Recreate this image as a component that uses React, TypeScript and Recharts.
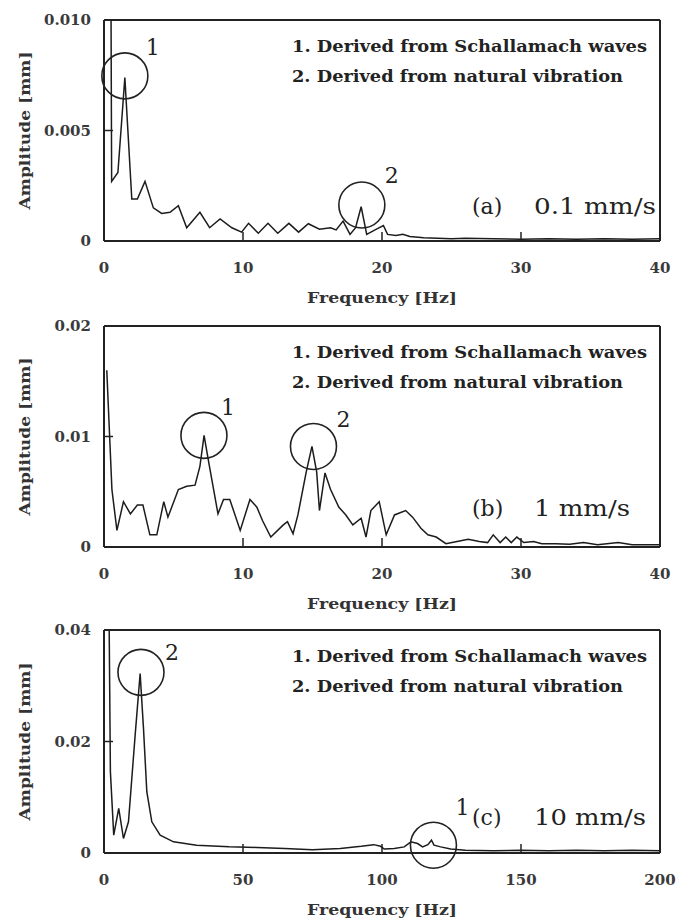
import { Line, LineChart, ReferenceDot, ReferenceLine, XAxis, YAxis } from "recharts";

// (a) 0.1 mm/s
const freqA = [
  0.45, 0.55, 1.0, 1.5, 2.0, 2.4, 2.95, 3.55, 4.15, 4.75, 5.35, 5.95, 6.9, 7.6, 8.35, 9.2, 9.9,
  10.4, 11.1, 11.8, 12.5, 13.3, 14.0, 14.7, 15.5, 16.3, 16.7, 17.2, 17.7, 18.1, 18.5, 18.9, 19.5,
  20.1, 20.4, 21.0, 21.5, 22.0, 23, 24, 25, 26, 28, 30, 32, 34, 36, 38, 40,
];
const ampA = [
  0.02, 0.0027, 0.0031, 0.0074, 0.0019, 0.0019, 0.0027, 0.0015, 0.00125, 0.0013, 0.0016, 0.0006,
  0.0013, 0.0006, 0.001, 0.0006, 0.0004, 0.0008, 0.00035, 0.0008, 0.00035, 0.0008, 0.0004, 0.00078,
  0.00053, 0.0006, 0.0005, 0.0009, 0.0003, 0.0006, 0.00155, 0.0003, 0.0005, 0.0007, 0.0003, 0.00025,
  0.0003, 0.0002, 0.00015, 0.00012, 0.0001, 0.00012, 0.0001, 0.00008, 0.0001, 0.00008, 0.0001,
  0.00008, 0.0001,
];
const xTicksA = [0, 10, 20, 30, 40];
const yTicksA = [0, 0.005, 0.01];
const yLabelsA = ["0", "0.005", "0.010"];
const peaksA = [
  { tag: "1", f: 1.5, a: 0.00747 },
  { tag: "2", f: 18.55, a: 0.00163 },
];

// (b) 1 mm/s
const freqB = [
  0.2, 0.57, 0.93, 1.4, 1.9, 2.4, 2.8, 3.3, 3.8, 4.3, 4.6, 5.35, 5.95, 6.55, 6.9, 7.2, 7.5, 8.2,
  8.6, 9.05, 9.8, 10.5, 11.0, 11.4, 12.0, 12.9, 13.2, 13.6, 13.95, 14.55, 14.96, 15.3, 15.5, 15.9,
  16.3, 16.9, 17.4, 17.9, 18.5, 18.85, 19.2, 19.8, 20.3, 20.9, 21.7, 22.2, 22.8, 23.3, 23.9, 24.6,
  25.4, 26.2, 27.0, 27.6, 28.0, 28.5, 28.9, 29.3, 29.7, 30.2, 30.9, 31.5, 32.5, 33.5, 34.5, 35.5,
  37, 38, 40,
];
const ampB = [
  0.016, 0.0052, 0.0015, 0.0041, 0.003, 0.0038, 0.0038, 0.0011, 0.0011, 0.0041, 0.0027, 0.0052,
  0.0055, 0.0056, 0.0073, 0.0101, 0.0079, 0.003, 0.0043, 0.0043, 0.0015, 0.0043, 0.0036, 0.0024,
  0.0009, 0.002, 0.0023, 0.0012, 0.0029, 0.0068, 0.0091, 0.0068, 0.0033, 0.0067, 0.0052, 0.0036,
  0.0029, 0.002, 0.0026, 0.0009, 0.0033, 0.0041, 0.0011, 0.0029, 0.0033, 0.0027, 0.0017, 0.0011,
  0.0009, 0.0003, 0.0005, 0.0007, 0.0005, 0.0004, 0.0011, 0.0004, 0.0009, 0.0004, 0.0009, 0.0004,
  0.0005, 0.0003, 0.0003, 0.00025, 0.0004, 0.0002, 0.0004, 0.0002, 0.0002,
];
const xTicksB = [0, 10, 20, 30, 40];
const yTicksB = [0, 0.01, 0.02];
const yLabelsB = ["0", "0.01", "0.02"];
const peaksB = [
  { tag: "1", f: 7.19, a: 0.0101 },
  { tag: "2", f: 15.07, a: 0.0091 },
];

// (c) 10 mm/s
const freqC = [
  1.7, 2.3, 3.5, 5.3, 7.0, 8.8, 11.2, 13.0, 14.2, 15.4, 17.2, 20.2, 25, 33.3, 45, 55, 65, 75, 85,
  92.5, 97, 99.5, 100.8, 104.4, 108, 110.4, 112.8, 114.6, 116.5, 117.8, 118.7, 121.1, 124.7, 130,
  140, 150, 160, 170, 180, 190, 200,
];
const ampC = [
  0.05, 0.0146, 0.0032, 0.008, 0.0026, 0.0056, 0.0211, 0.0322, 0.0224, 0.011, 0.0056, 0.0032, 0.002,
  0.0014, 0.0011, 0.001, 0.0008, 0.0006, 0.0008, 0.0012, 0.0015, 0.0012, 0.0007, 0.0008, 0.0011,
  0.002, 0.0017, 0.0011, 0.0015, 0.0023, 0.0014, 0.0011, 0.0007, 0.0005, 0.0004, 0.0005, 0.0004,
  0.0005, 0.0004, 0.0005, 0.0004,
];
const xTicksC = [0, 50, 100, 150, 200];
const yTicksC = [0, 0.02, 0.04];
const yLabelsC = ["0", "0.02", "0.04"];
const peaksC = [
  { tag: "2", f: 13.3, a: 0.0324 },
  { tag: "1", f: 118.5, a: 0.0014 },
];

const legendLines = ["1. Derived from Schallamach waves", "2. Derived from natural vibration"];
const xTitle = "Frequency [Hz]";
const yTitle = "Amplitude [mm]";

const FONT = "'DejaVu Serif', serif";
const INK = "#222";
const PLOT_LEFT = 104;
const PLOT_RIGHT = 660;
const PLOT_TOP = 20;
const CHART_H = 313;
const CIRCLE_R = 23;

function tagLabel(tag: string, dx: number, dy: number) {
  return (props: any) => {
    const vb = props.viewBox;
    const cx = vb.x + vb.width / 2;
    const cy = vb.y + vb.height / 2;
    return (
      <text x={cx + dx} y={cy + dy} textAnchor="middle" fontFamily={FONT} fontSize={22} fill={INK}>
        {tag}
      </text>
    );
  };
}

interface PanelProps {
  freq: number[];
  amp: number[];
  xTicks: number[];
  yTicks: number[];
  yLabels: string[];
  peaks: { tag: string; f: number; a: number }[];
  tagOffsets: number[][];
  letter: string;
  speed: string;
  speedWidth: number;
  titleBaseline: number;
  top: number;
  plotHeight: number;
}

function Panel(p: PanelProps) {
  const data = p.freq.map((f, i) => ({ f, a: p.amp[i] }));
  const xMax = p.xTicks[p.xTicks.length - 1];
  const yMax = p.yTicks[p.yTicks.length - 1];
  const bottom = PLOT_TOP + p.plotHeight;
  return (
    <div style={{ position: "absolute", left: 0, top: p.top }}>
      <LineChart
        width={677}
        height={CHART_H}
        data={data}
        margin={{ top: PLOT_TOP, right: 677 - PLOT_RIGHT, bottom: 0, left: 0 }}
      >
        <XAxis
          dataKey="f"
          type="number"
          domain={[0, xMax]}
          ticks={p.xTicks}
          allowDataOverflow
          height={CHART_H - PLOT_TOP - p.plotHeight}
          tickSize={-9}
          tickMargin={30}
          axisLine={{ stroke: INK, strokeWidth: 2 }}
          tickLine={{ stroke: INK, strokeWidth: 1.5 }}
          tick={{ fontFamily: FONT, fontSize: 15, fontWeight: "bold", fill: "#3a3a3a" }}
        />
        <YAxis
          type="number"
          domain={[0, yMax]}
          ticks={p.yTicks}
          allowDataOverflow
          width={PLOT_LEFT}
          tickSize={-9}
          tickMargin={22}
          tickFormatter={(v: number) => p.yLabels[p.yTicks.indexOf(v)] ?? String(v)}
          axisLine={{ stroke: INK, strokeWidth: 2 }}
          tickLine={{ stroke: INK, strokeWidth: 1.5 }}
          tick={{ fontFamily: FONT, fontSize: 15, fontWeight: "bold", fill: "#3a3a3a" }}
        />
        <ReferenceLine y={yMax} stroke={INK} strokeWidth={2} />
        <ReferenceLine x={xMax} stroke={INK} strokeWidth={2} />
        <Line
          dataKey="a"
          type="linear"
          stroke="#1c1c1c"
          strokeWidth={1.5}
          dot={false}
          isAnimationActive={false}
        />
        {p.peaks.map((pk, i) => (
          <ReferenceDot
            key={pk.tag}
            x={pk.f}
            y={pk.a}
            r={CIRCLE_R}
            fill="none"
            stroke={INK}
            strokeWidth={1.6}
            ifOverflow="visible"
            label={tagLabel(pk.tag, p.tagOffsets[i][0], p.tagOffsets[i][1])}
          />
        ))}
        <text x={292} y={PLOT_TOP + 32} fontFamily={FONT} fontSize={16} fontWeight="bold" fill={INK}
          textLength={355} lengthAdjust="spacingAndGlyphs">
          {legendLines[0]}
        </text>
        <text x={292} y={PLOT_TOP + 62} fontFamily={FONT} fontSize={16} fontWeight="bold" fill={INK}
          textLength={331} lengthAdjust="spacingAndGlyphs">
          {legendLines[1]}
        </text>
        <text x={472} y={p.titleBaseline} fontFamily={FONT} fontSize={22} fill={INK}>
          {p.letter}
        </text>
        <text x={534} y={p.titleBaseline} fontFamily={FONT} fontSize={22} fill={INK}
          textLength={p.speedWidth} lengthAdjust="spacingAndGlyphs">
          {p.speed}
        </text>
        <text x={(PLOT_LEFT + PLOT_RIGHT) / 2} y={bottom + 62} textAnchor="middle" fontFamily={FONT}
          fontSize={15} fontWeight="bold" fill="#333" textLength={150} lengthAdjust="spacingAndGlyphs">
          {xTitle}
        </text>
        <text x={30} y={PLOT_TOP + p.plotHeight / 2} textAnchor="middle" fontFamily={FONT} fontSize={15}
          fontWeight="bold" fill="#333" textLength={158} lengthAdjust="spacingAndGlyphs"
          transform={`rotate(-90 30 ${PLOT_TOP + p.plotHeight / 2})`}>
          {yTitle}
        </text>
      </LineChart>
    </div>
  );
}

export default function App() {
  return (
    <div style={{ position: "absolute", left: 0, top: 0, width: 677, height: 923, background: "#fff", overflow: "hidden" }}>
      <Panel freq={freqA} amp={ampA} xTicks={xTicksA} yTicks={yTicksA} yLabels={yLabelsA}
        peaks={peaksA} tagOffsets={[[28, -21], [30, -22]]} letter="(a)" speed="0.1 mm/s"
        speedWidth={122} titleBaseline={214} top={0} plotHeight={221} />
      <Panel freq={freqB} amp={ampB} xTicks={xTicksB} yTicks={yTicksB} yLabels={yLabelsB}
        peaks={peaksB} tagOffsets={[[24, -20], [30, -19]]} letter="(b)" speed="1 mm/s"
        speedWidth={96} titleBaseline={210} top={306} plotHeight={221} />
      <Panel freq={freqC} amp={ampC} xTicks={xTicksC} yTicks={yTicksC} yLabels={yLabelsC}
        peaks={peaksC} tagOffsets={[[31, -12], [29, -30]]} letter="(c)" speed="10 mm/s"
        speedWidth={112} titleBaseline={215} top={610} plotHeight={223} />
    </div>
  );
}
